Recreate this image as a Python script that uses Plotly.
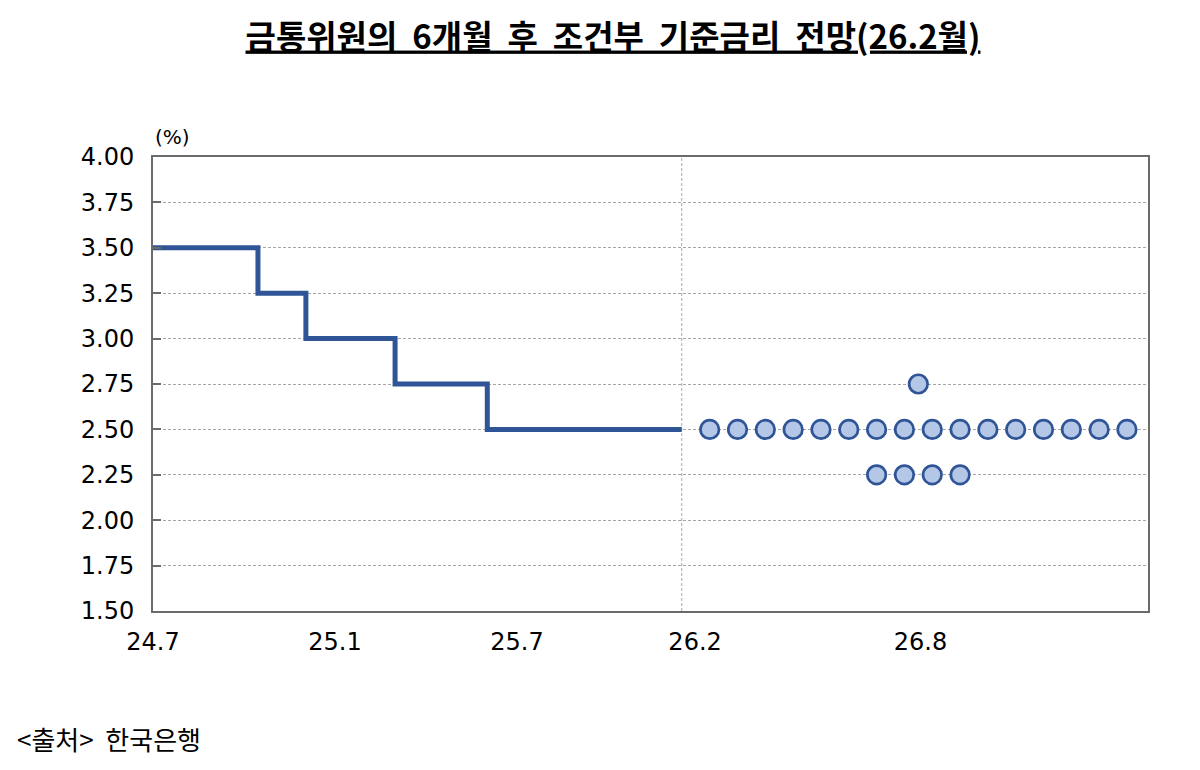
import plotly.graph_objects as go

# ---- data ----
# history: months elapsed since 2024.7 (x) and policy rate (%)
hist_month = [0, 3.46, 5.04, 7.98, 11.02, 17.43]
hist_rate = [3.50, 3.25, 3.00, 2.75, 2.50, 2.50]

# dot plot (6-month-ahead conditional rate views)
dot_rates = [2.75, 2.50, 2.25]
dot_counts = [1, 16, 4]
dot_center_month = 25.23
dot_spacing_month = 0.917

divider_month = 17.43

tick_pos = [0, 6, 12, 17.87, 25.3]
tick_text = ["24.7", "25.1", "25.7", "26.2", "26.8"]

y_ticks = [1.50, 1.75, 2.00, 2.25, 2.50, 2.75, 3.00, 3.25, 3.50, 3.75, 4.00]

BLUE = "#2f5597"
FILL = "#b4c7e7"
GRID = "#a6a6a6"
FRAME = "#6b6b6b"

fig = go.Figure()

fig.add_trace(go.Scatter(
    x=hist_month, y=hist_rate, mode="lines", line_shape="hv",
    line=dict(color=BLUE, width=5), hoverinfo="skip", showlegend=False,
))

dx, dy = [], []
for r, n in zip(dot_rates, dot_counts):
    for i in range(n):
        dx.append(dot_center_month + (i - (n - 1) / 2) * dot_spacing_month)
        dy.append(r)
fig.add_trace(go.Scatter(
    x=dx, y=dy, mode="markers",
    marker=dict(size=18.5, color=FILL, line=dict(color=BLUE, width=2.7)),
    showlegend=False,
))

# vertical divider
fig.add_shape(type="line", xref="x", yref="paper", x0=divider_month, x1=divider_month,
              y0=0, y1=1, line=dict(color=GRID, width=1, dash="3px,2px"), layer="below")

NB = "\u00a0"
title_words = ["금통위원의", "6개월", "후", "조건부", "기준금리", "전망(26.2월)"]
title_text = (NB + NB).join(title_words)

fig.update_layout(
    width=1200, height=770,
    margin=dict(l=153, r=52, t=157, b=159),
    paper_bgcolor="white", plot_bgcolor="white",
    font=dict(family="DejaVu Sans, Liberation Sans, sans-serif", color="#000000"),
    title=dict(
        text=f"<b><u>{title_text}</u></b>",
        x=613 / 1200, xref="container",
        xanchor="center", y=1 - 37 / 770, yref="container", yanchor="middle",
        font=dict(family="Noto Sans CJK KR", size=33, color="#000000"),
    ),
    xaxis=dict(
        range=[0, 32.8], tickmode="array", tickvals=tick_pos, ticktext=tick_text,
        showgrid=False, zeroline=False, showline=True, mirror=True,
        linecolor=FRAME, linewidth=2, ticks="",
        tickfont=dict(size=24, family="DejaVu Sans"), ticklabelstandoff=8,
    ),
    yaxis=dict(
        range=[1.5, 4.0], tickmode="array", tickvals=y_ticks,
        ticktext=[f"{v:.2f}" for v in y_ticks],
        showgrid=True, gridcolor=GRID, griddash="3px,2px", gridwidth=1,
        zeroline=False, showline=True, mirror=True, linecolor=FRAME, linewidth=2,
        ticks="inside", ticklen=8, tickcolor=FRAME, tickwidth=1.5,
        tickfont=dict(size=24, family="DejaVu Sans"), ticklabelstandoff=12,
    ),
    annotations=[
        dict(text="(%)", xref="paper", yref="paper", x=0.02, y=1.045,
             xanchor="center", yanchor="middle", showarrow=False,
             font=dict(size=20, family="DejaVu Sans")),
        dict(text=f"&lt;출처&gt;{NB}{NB}한국은행", xref="paper", yref="paper",
             x=-138 / 995, y=-127 / 454, xanchor="left", yanchor="middle",
             showarrow=False, font=dict(size=26, family="Noto Sans CJK KR")),
    ],
)

fig.write_html("out.html")
